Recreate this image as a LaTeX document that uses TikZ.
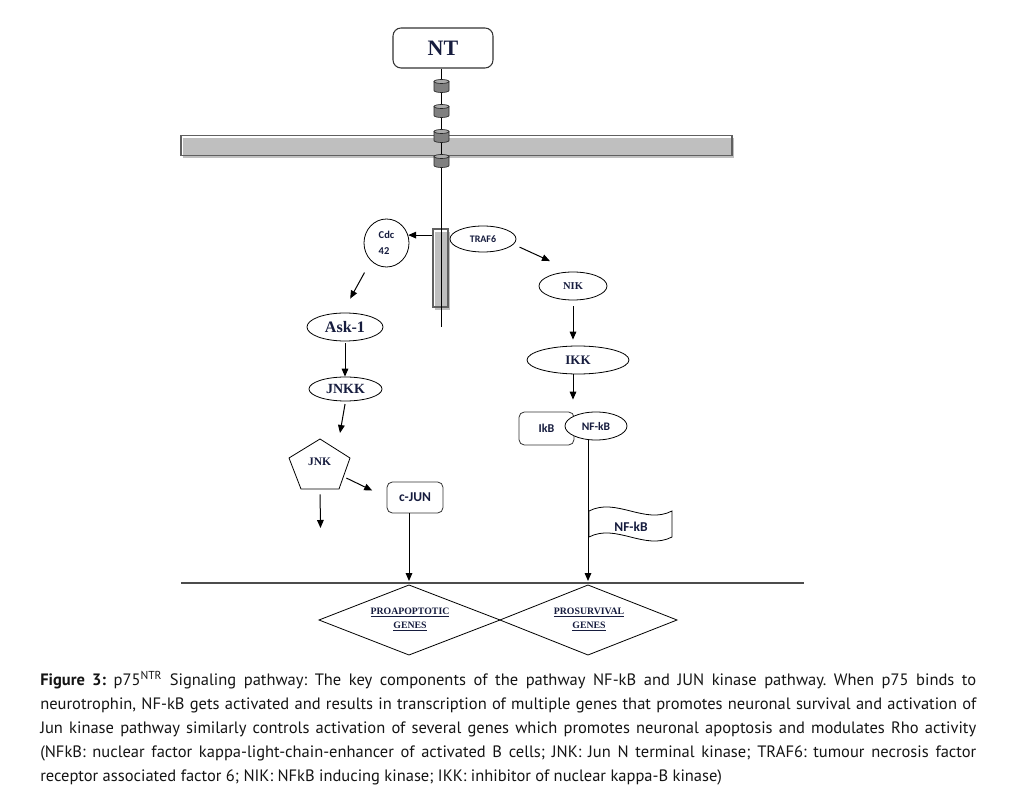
\documentclass[tikz,border=0pt]{standalone}
\usepackage{fontspec}
\setmainfont{Liberation Serif}
\newfontfamily\calib{Carlito}
\newfontfamily\capfont{PT Sans}
\usetikzlibrary{shapes.geometric,arrows.meta,shadows,calc}
\definecolor{lab}{RGB}{22,28,62}
\definecolor{barfill}{RGB}{191,191,191}
\definecolor{barline}{RGB}{96,96,96}
\definecolor{cylbodyc}{RGB}{128,128,128}
\definecolor{cyltopc}{RGB}{170,170,170}
\newcommand{\px}[1]{\fontsize{\fpeval{#1*0.75}pt}{\fpeval{#1*0.9}pt}\selectfont}
\begin{document}
\begin{tikzpicture}[x=0.75pt,y=-0.75pt,
  every node/.style={text=lab},
  arr/.style={draw=black, line width=0.75pt, -{Triangle[length=6pt,width=5pt]}},
  ell/.style={ellipse, draw=black, line width=0.6pt, fill=white, inner sep=0pt},
  rbox/.style={rectangle, rounded corners=4pt, draw=black!80, line width=0.6pt, fill=white, inner sep=0pt},
  memb/.style={rectangle, draw=barline, line width=0.9pt, inner sep=0pt,
    drop shadow={shadow xshift=1.5pt, shadow yshift=-2.25pt, fill=barfill, opacity=1}},
  gene/.style={draw=black, line width=0.6pt},
  genetxt/.style={align=center, inner sep=0pt, font=\bfseries\px{9.8}},
  cylb/.style={fill=cylbodyc, draw=black!85, line width=0.5pt},
  cylt/.style={fill=cyltopc, draw=black!85, line width=0.5pt},
  stem/.style={draw=black, line width=0.7pt},
  nucl/.style={draw=black!70, line width=1.2pt},
]
\useasboundingbox (0,0) rectangle (1018,798);

% receptor and membrane
\node[rbox, rounded corners=6pt, line width=0.8pt, minimum width=75pt, minimum height=30pt,
  font=\bfseries\px{22}] (nt) at (443,48) {NT};
\node[memb, minimum width=413.25pt, minimum height=15pt] (mem) at (456.5,145.5) {};
\node[memb, minimum width=11.25pt, minimum height=58.5pt] (bar) at (440.5,268) {};
\coordinate (stemend) at (441,327);
\draw[stem] (nt.south -| stemend) -- (stemend);
\foreach \y in {86,111,136,161}{
  \path[cylb] (434,\y-4.5) -- (434,\y+4.5)
     arc[start angle=180, end angle=360, x radius=5.625pt, y radius=1.5pt]
     -- (449,\y-4.5) -- cycle;
  \path[cylt] (441.5,\y-4.5) ellipse[x radius=5.625pt, y radius=1.5pt];
}

% left branch
\node[ell, minimum width=33.75pt, minimum height=36pt, align=left,
  font=\calib\bfseries\px{10.5}] (cdc) at (386.5,243) {Cdc\\[3pt]42};
\node[ell, minimum width=49.5pt, minimum height=19.5pt,
  font=\calib\bfseries\px{10}] (traf) at (483,239) {TRAF6};
\node[ell, minimum width=57pt, minimum height=21pt, font=\bfseries\px{16}] (ask) at (345,327) {Ask-1};
\node[ell, minimum width=54.75pt, minimum height=18pt, font=\bfseries\px{14}] (jnkk) at (345.5,389) {JNKK};
\coordinate (p1) at (320,439);
\coordinate (p2) at (350,458);
\coordinate (p3) at (339,489);
\coordinate (p4) at (301,489);
\coordinate (p5) at (289,458);
\draw[line width=0.6pt, fill=white] (p1) -- (p2) -- (p3) -- (p4) -- (p5) -- cycle;
\node[font=\bfseries\px{11.5}] (jnk) at (319.5,462) {JNK};
\node[rbox, minimum width=42pt, minimum height=23.25pt, font=\calib\bfseries\px{13.5}] (cjun) at (415,497.5) {c-JUN};
\coordinate (jin) at (340,433);
\coordinate (jdown) at (320.5,528);

% right branch
\node[ell, minimum width=51pt, minimum height=21pt, font=\bfseries\px{10.5}] (nik) at (573,286) {NIK};
\node[ell, minimum width=76.5pt, minimum height=21pt, font=\bfseries\px{13}] (ikk) at (578,360) {IKK};
\node[rbox, minimum width=41.25pt, minimum height=24.75pt, font=\calib\bfseries\px{12}] (ikb) at (546.5,428.5) {IkB};
\node[ell, minimum width=46.5pt, minimum height=21pt, font=\calib\bfseries\px{11.5}] (nfkb) at (596,426) {NF-kB};

% nucleus
\coordinate (nl) at (181,583);
\coordinate (nr) at (804,583);
\draw[nucl] (nl) -- (nr);
\coordinate (protop) at (409,585);
\coordinate (survtop) at (588,585);
\draw[gene] (319,620) -- (protop) -- (500,620) -- (409,655) -- cycle;
\draw[gene] (500,620) -- (survtop) -- (677,620) -- (588,655) -- cycle;
\node[genetxt] (pro) at (410,619.5) {\underline{PROAPOPTOTIC}\\[2pt]\underline{GENES}};
\node[genetxt] (surv) at (589,619.5) {\underline{PROSURVIVAL}\\[2pt]\underline{GENES}};

% flag
\draw[line width=0.6pt, fill=white] (589,511) .. controls (616,497) and (645,525) .. (672,511)
  -- (672,537) .. controls (645,551) and (616,523) .. (589,537) -- cycle;
\begin{scope}
  \clip (589,500) rectangle (672,530.5);
  \node[anchor=base, font=\calib\bfseries\px{13.5}] (flagtxt) at (631,532) {NF-kB};
\end{scope}

% connectors
\draw[arr] (bar.west |- cdc.20) -- (cdc.20);
\draw[arr, shorten <=10pt, shorten >=12pt] (cdc.229) -- (ask.100);
\draw[arr, shorten <=1.5pt] (ask.south) -- (ask.south |- jnkk.north);
\draw[arr, shorten <=2pt] (jnkk.south) -- (jin);
\draw[arr, shorten <=2.5pt, shorten >=12pt] ($(p2)!0.6!(p3)$) -- (cjun.west);
\draw[arr, shorten <=4pt] ($(p3)!0.5!(p4)$) -- (jdown);
\draw[arr, shorten >=3pt] (cjun.south -| protop) -- (protop);
\draw[arr, shorten <=5pt, shorten >=19pt] (traf.-10) -- (nik.north);
\draw[arr, shorten <=4.5pt, shorten >=4.5pt] (nik.south) -- (nik.south |- ikk.north);
\draw[arr, shorten >=9pt] (nik.south |- ikk.south) -- (nik.south |- nfkb.north);
\draw[arr, shorten >=3pt] (nfkb.south -| survtop) -- (survtop);

% caption
\node[anchor=north west, inner sep=0pt, align=left, text=black!92,
  font=\capfont\frenchspacing\fontsize{12.375pt}{18pt}\selectfont] (cap) at (40,671) {%
\makebox[702pt][s]{\textbf{Figure 3:} p75\textsuperscript{NTR} Signaling pathway: The key components of the pathway NF-kB and JUN kinase pathway. When p75 binds to}\\
\makebox[702pt][s]{neurotrophin, NF-kB gets activated and results in transcription of multiple genes that promotes neuronal survival and activation of}\\
\makebox[702pt][s]{Jun kinase pathway similarly controls activation of several genes which promotes neuronal apoptosis and modulates Rho activity}\\
\makebox[702pt][s]{(NFkB: nuclear factor kappa-light-chain-enhancer of activated B cells; JNK: Jun N terminal kinase; TRAF6: tumour necrosis factor}\\
receptor associated factor 6; NIK: NFkB inducing kinase; IKK: inhibitor of nuclear kappa-B kinase)};
\end{tikzpicture}
\end{document}
